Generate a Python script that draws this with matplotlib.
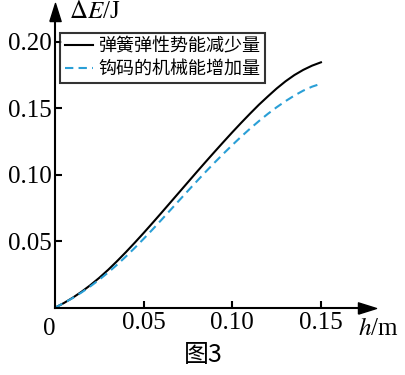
import numpy as np
import matplotlib
matplotlib.use("Agg")
import matplotlib.pyplot as plt

plt.rcParams['font.family'] = ['Liberation Serif', 'Noto Sans CJK SC']
plt.rcParams['mathtext.fontset'] = 'stix'

# data
h = [0, 0.005, 0.01, 0.015, 0.02, 0.025, 0.03, 0.035, 0.04, 0.045, 0.05, 0.055,
     0.06, 0.065, 0.07, 0.075, 0.08, 0.085, 0.09, 0.095, 0.10, 0.105, 0.11,
     0.115, 0.12, 0.125, 0.13, 0.135, 0.14, 0.145, 0.15]
e_spring = [0, 0.0035, 0.0075, 0.012, 0.017, 0.0225, 0.0285, 0.035, 0.0418, 0.0489,
            0.0562, 0.0637, 0.0713, 0.079, 0.0867, 0.0944, 0.1021, 0.1097, 0.1172,
            0.1246, 0.1319, 0.139, 0.1459, 0.1526, 0.1588, 0.1648, 0.1702, 0.1749,
            0.1788, 0.182, 0.1845]
e_mech = [0, 0.0035, 0.0073, 0.0115, 0.0161, 0.0211, 0.0265, 0.0323, 0.0385, 0.045,
          0.0518, 0.0588, 0.066, 0.0733, 0.0806, 0.0879, 0.0951, 0.1022, 0.1091,
          0.1158, 0.1223, 0.1286, 0.1346, 0.1403, 0.1457, 0.1507, 0.1553, 0.1595,
          0.1632, 0.1662, 0.1684]
xticks = [0.05, 0.10, 0.15]
yticks = [0.05, 0.10, 0.15, 0.20]
labels = ['弹簧弹性势能减少量', '钩码的机械能增加量']

fig = plt.figure(figsize=(4.05, 3.75), dpi=100)
ax = fig.add_axes([55/405, 67.3/375, 312/405, 295.7/375])

ax.plot(h, e_spring, color='black', lw=1.5, solid_joinstyle='round', label=labels[0])
ax.plot(h, e_mech, color='#2a9fd6', lw=1.5, ls=(0, (4, 2.5)), label=labels[1])

ax.set_xlim(0, 312/1773)
ax.set_ylim(0, 295.7/1330)
for s in ['top', 'right']:
    ax.spines[s].set_visible(False)
for s in ['left', 'bottom']:
    ax.spines[s].set_linewidth(1.5)

ax.set_xticks(xticks)
ax.set_xticklabels(['%.2f' % v for v in xticks])
ax.set_yticks(yticks)
ax.set_yticklabels(['%.2f' % v for v in yticks])
ax.tick_params(direction='in', length=5, width=1.5, labelsize=18, pad=3)
ax.tick_params(axis='y', pad=2)

# arrow heads
up = [(-1, -1.6), (0, 1.6), (1, -1.6), (-1, -1.6)]
right = [(-1.6, -1), (1.6, 0), (-1.6, 1), (-1.6, -1)]
ax.plot(1, 0, marker=right, color='k', ms=13, transform=ax.transAxes, clip_on=False)
ax.plot(0, 1, marker=up, color='k', ms=13, transform=ax.transAxes, clip_on=False)

ax.text(-0.02, -0.035, '0', transform=ax.transAxes, ha='center', va='top', fontsize=18)
ax.text(0.97, -0.035, r'$h$/m', transform=ax.transAxes, ha='left', va='top', fontsize=18)
ax.text(0.045, 1.0, r'$\Delta E$/J', transform=ax.transAxes, ha='left', va='center', fontsize=18)
fig.text(203/405, 1 - 355/375, '图3', ha='center', va='center', fontsize=18,
         family=['Noto Sans CJK SC', 'Liberation Serif'])

leg = ax.legend(loc='upper left', bbox_to_anchor=(5/312, 1 - 21/295.7),
                prop={'family': 'Noto Sans CJK SC', 'size': 13},
                frameon=True, fancybox=False, handlelength=1.6, handletextpad=0.3,
                borderpad=0.25, labelspacing=0.25, borderaxespad=0)
leg.get_frame().set_edgecolor('black')
leg.get_frame().set_linewidth(1.5)

fig.savefig('out.png', dpi=100)
